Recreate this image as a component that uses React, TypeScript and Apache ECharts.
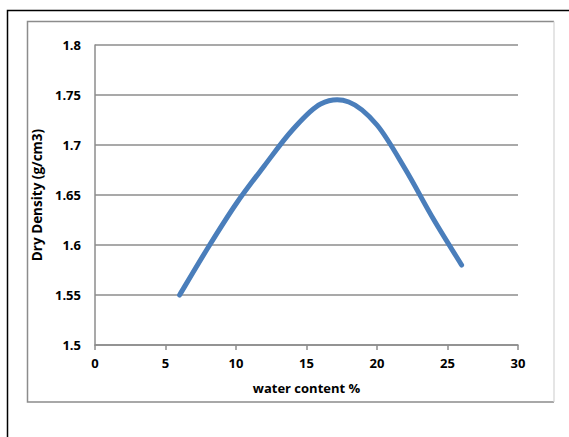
import React, { useEffect, useRef } from "react";
import * as echarts from "echarts";

const waterContent = [6, 8, 10, 12, 14, 16, 18, 20, 22, 24, 26];
const dryDensity = [1.55, 1.597, 1.641, 1.679, 1.715, 1.741, 1.743, 1.72, 1.676, 1.626, 1.58];
const xTitle = "water content %";
const yTitle = "Dry Density (g/cm3)";

const FONT = "Open Sans";

export default function App() {
  const ref = useRef<HTMLDivElement>(null);
  useEffect(() => {
    if (!ref.current) return;
    const chart = echarts.init(ref.current, null, { renderer: "svg" });
    const data = waterContent.map((x, i) => [x, dryDensity[i]]);

    const renderCurve = (params: any, api: any) => {
      if (params.dataIndex !== 0) return null;
      const pts = data.map((d) => api.coord(d));
      const n = pts.length;
      let d = `M${pts[0][0]} ${pts[0][1]}`;
      for (let i = 0; i < n - 1; i++) {
        const p0 = pts[i - 1] || pts[i];
        const p1 = pts[i];
        const p2 = pts[i + 1];
        const p3 = pts[i + 2] || pts[i + 1];
        const c1x = p1[0] + (p2[0] - p0[0]) / 6;
        const c1y = p1[1] + (p2[1] - p0[1]) / 6;
        const c2x = p2[0] - (p3[0] - p1[0]) / 6;
        const c2y = p2[1] - (p3[1] - p1[1]) / 6;
        d += ` C${c1x} ${c1y} ${c2x} ${c2y} ${p2[0]} ${p2[1]}`;
      }
      return {
        type: "path",
        shape: { pathData: d },
        style: {
          fill: "none",
          stroke: "#4a7ebb",
          lineWidth: 5,
          lineCap: "round",
          lineJoin: "round",
        },
      };
    };

    chart.setOption({
      animation: false,
      backgroundColor: "#ffffff",
      grid: { left: 95, top: 45, right: 51, bottom: 92, containLabel: false },
      xAxis: {
        type: "value",
        min: 0,
        max: 30,
        interval: 5,
        name: xTitle,
        nameLocation: "middle",
        nameGap: 36,
        nameTextStyle: { fontFamily: FONT, fontWeight: "bold", fontSize: 13, color: "#000" },
        axisLine: { show: true, lineStyle: { color: "#8c8c8c", width: 1.5 } },
        axisTick: { show: true, inside: false, length: 5, lineStyle: { color: "#8c8c8c", width: 1.5 } },
        axisLabel: { fontFamily: FONT, fontWeight: "bold", fontSize: 13, color: "#000", margin: 11 },
        splitLine: { show: false },
      },
      yAxis: {
        type: "value",
        min: 1.5,
        max: 1.8,
        interval: 0.05,
        name: yTitle,
        nameLocation: "middle",
        nameGap: 38,
        nameTextStyle: { fontFamily: FONT, fontWeight: "bold", fontSize: 13.5, color: "#000" },
        axisLine: { show: true, lineStyle: { color: "#8c8c8c", width: 1.5 } },
        axisTick: { show: false },
        axisLabel: {
          fontFamily: FONT,
          fontWeight: "bold",
          fontSize: 13,
          color: "#000",
          margin: 14,
          formatter: (v: number) => String(parseFloat(v.toFixed(2))),
        },
        splitLine: { show: true, lineStyle: { color: "#8c8c8c", width: 1.5 } },
      },
      series: [
        {
          type: "custom",
          coordinateSystem: "cartesian2d",
          data,
          encode: { x: 0, y: 1 },
          renderItem: renderCurve,
        },
      ],
      graphic: [
        {
          type: "polyline",
          shape: { points: [[7.5, 437], [7.5, 10.5], [569, 10.5]] },
          style: { stroke: "#000", lineWidth: 1.5, fill: "none" },
          silent: true,
        },
        {
          type: "polyline",
          shape: { points: [[554, 402], [27.5, 402], [27.5, 21.5], [554, 21.5]] },
          style: { stroke: "#8c8c8c", lineWidth: 1.5, fill: "none" },
          silent: true,
        },
        {
          type: "line",
          shape: { x1: 554, y1: 21.5, x2: 554, y2: 402 },
          style: { stroke: "#d4d4d4", lineWidth: 1.2 },
          silent: true,
        },
      ],
    });
    return () => chart.dispose();
  }, []);
  return (
    <div
      ref={ref}
      style={{ position: "fixed", left: 0, top: 0, width: 569, height: 437, background: "#fff" }}
    />
  );
}
